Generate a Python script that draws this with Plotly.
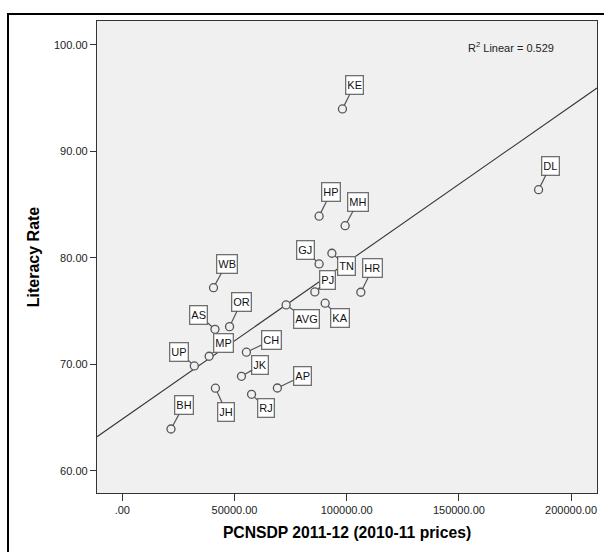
import numpy as np
import plotly.graph_objects as go

# ---- data ----
states = ["KE", "DL", "HP", "MH", "GJ", "TN", "PJ", "HR", "KA", "AVG", "WB",
          "AS", "OR", "MP", "UP", "CH", "JK", "AP", "JH", "RJ", "BH"]
pcnsdp = [98100, 185500, 87700, 99300, 87700, 93400, 85800, 106300, 90400, 73000, 40650,
          41300, 47800, 38700, 32100, 55300, 53100, 69100, 41500, 57600, 21700]
literacy = [93.99, 86.41, 83.92, 83.03, 79.44, 80.44, 76.81, 76.78, 75.75, 75.59, 77.21,
            73.30, 73.55, 70.77, 69.86, 71.15, 68.89, 67.79, 67.77, 67.20, 63.94]
x_tickvals = [0, 50000, 100000, 150000, 200000]
x_ticktext = [".00", "50000.00", "100000.00", "150000.00", "200000.00"]
y_tickvals = [60, 70, 80, 90, 100]
y_ticktext = ["60.00", "70.00", "80.00", "90.00", "100.00"]
r2_text = "R<sup>2</sup> Linear = 0.529"
x_title = "PCNSDP 2011-12 (2010-11 prices)"
y_title = "Literacy Rate"

# ---- layout / style (label offsets in pixels) ----
label_offsets = {
    "KE": (12, -24), "DL": (12, -24), "HP": (12, -24), "MH": (13, -24),
    "GJ": (-14, -14), "TN": (15, 13), "PJ": (13, -12), "HR": (12, -24),
    "KA": (15, 15), "AVG": (20, 14), "WB": (13, -24), "AS": (-16, -14),
    "OR": (12, -25), "MP": (14, -13), "UP": (-15, -14), "CH": (25, -12),
    "JK": (19, -11), "AP": (25, -12), "JH": (11, 24), "RJ": (14, 14),
    "BH": (13, -24),
}
x_range = [-11275, 211540]
y_range = [57.93, 102.25]
FONT = "Liberation Sans, Arial, sans-serif"

slope, intercept = np.polyfit(np.array(pcnsdp, float), np.array(literacy, float), 1)
fit_x = np.array(x_range, float)
fit_y = slope * fit_x + intercept

fig = go.Figure()
fig.add_trace(go.Scatter(
    x=fit_x, y=fit_y, mode="lines",
    line=dict(color="#333333", width=1.1),
    hoverinfo="skip", showlegend=False, cliponaxis=True,
))
fig.add_trace(go.Scatter(
    x=pcnsdp, y=literacy, mode="markers",
    marker=dict(symbol="circle", size=8, color="#f0f0f0",
                line=dict(color="#555555", width=1.3)),
    text=states, showlegend=False,
))

annotations = []
for s, xv, yv in zip(states, pcnsdp, literacy):
    ax, ay = label_offsets[s]
    annotations.append(dict(
        x=xv, y=yv, xref="x", yref="y", text=s,
        showarrow=True, arrowhead=0, arrowwidth=1.2, arrowcolor="#555555",
        ax=ax, ay=ay, standoff=4,
        font=dict(family=FONT, size=11, color="#111111"),
        bgcolor="#ffffff", bordercolor="#707070", borderwidth=1.3, borderpad=1,
        height=15,
    ))
annotations.append(dict(
    x=0.738, y=0.945, xref="paper", yref="paper", text=r2_text,
    showarrow=False, xanchor="left", yanchor="middle",
    font=dict(family=FONT, size=11, color="#222222"),
))

fig.update_layout(
    width=604, height=552,
    margin=dict(l=97, r=7, t=21, b=59),
    paper_bgcolor="#ffffff", plot_bgcolor="#f0f0f0",
    annotations=annotations,
    shapes=[dict(type="rect", xref="paper", yref="paper",
                 x0=-0.178, x1=1.2, y0=-0.4, y1=1.0148,
                 line=dict(color="#000000", width=2), layer="below")],
    font=dict(family=FONT, size=11, color="#222222"),
)
fig.update_xaxes(
    range=x_range, tickvals=x_tickvals, ticktext=x_ticktext,
    showgrid=False, zeroline=False,
    showline=True, linecolor="#333333", linewidth=1.3, mirror=True,
    ticks="outside", ticklen=7, tickcolor="#333333", tickwidth=1.3,
    tickfont=dict(family=FONT, size=11, color="#222222"),
    title=dict(text="<b>" + x_title + "</b>", standoff=11,
               font=dict(family=FONT, size=15.7, color="#000000")),
)
fig.update_yaxes(
    range=y_range, tickvals=y_tickvals, ticktext=y_ticktext,
    showgrid=False, zeroline=False,
    showline=True, linecolor="#333333", linewidth=1.3, mirror=True,
    ticks="outside", ticklen=6, tickcolor="#333333", tickwidth=1.3,
    tickfont=dict(family=FONT, size=11, color="#222222"),
    title=dict(text="<b>" + y_title + "</b>", standoff=10,
               font=dict(family=FONT, size=16, color="#000000")),
)

fig.write_html("out.html")
